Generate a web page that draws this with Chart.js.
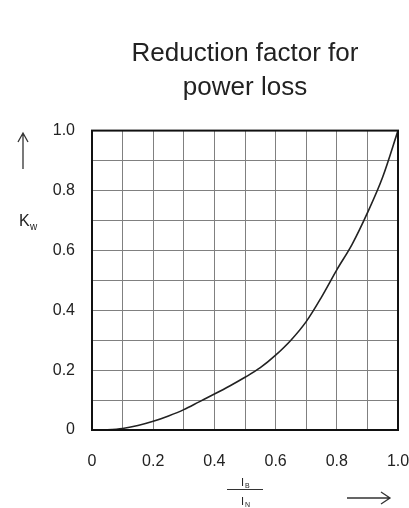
<!DOCTYPE html>
<html>
<head>
<meta charset="utf-8">
<script src="https://cdn.jsdelivr.net/npm/chart.js@4.4.0/dist/chart.umd.min.js"></script>
<style>
  html, body { margin: 0; padding: 0; background: #fff; }
  #wrap { width: 409px; height: 508px; }
</style>
</head>
<body>
<div id="wrap"><canvas id="kwChart" width="409" height="508"></canvas></div>
<script>
// curve: current ratio IB/IN -> Kw
const ratio = [0, 0.05, 0.1, 0.15, 0.2, 0.25, 0.3, 0.35, 0.4, 0.45, 0.5, 0.55, 0.6, 0.65, 0.7, 0.75, 0.8, 0.85, 0.9, 0.95, 1.0];
const kw = [0, 0.001, 0.005, 0.015, 0.029, 0.047, 0.068, 0.094, 0.12, 0.147, 0.176, 0.208, 0.25, 0.3, 0.362, 0.444, 0.535, 0.62, 0.725, 0.845, 1.0];
const tickLabels = ['0', '0.2', '0.4', '0.6', '0.8', '1.0'];
const titleLines = ['Reduction factor for', 'power loss'];

const textColor = '#222';
const font = 'Liberation Sans, Arial, sans-serif';

function labelFor(value) {
    const i = Math.round(value * 10);
    return i % 2 === 0 ? tickLabels[i / 2] : '';
}

// frame, axis arrows, Kw and IB/IN labels
const extras = {
    id: 'extras',
    afterDraw(chart) {
        const { ctx, chartArea: a } = chart;
        ctx.save();
        ctx.strokeStyle = '#111';
        ctx.lineWidth = 2;
        ctx.strokeRect(a.left, a.top, a.right - a.left, a.bottom - a.top);

        ctx.fillStyle = textColor;
        ctx.strokeStyle = '#333';
        ctx.lineWidth = 1.3;

        // up arrow
        ctx.beginPath();
        ctx.moveTo(23, 169); ctx.lineTo(23, 133);
        ctx.moveTo(18, 142); ctx.lineTo(23, 133); ctx.lineTo(28, 142);
        ctx.stroke();

        // Kw
        ctx.textBaseline = 'alphabetic';
        ctx.textAlign = 'left';
        ctx.font = '16px ' + font;
        ctx.fillText('K', 19, 226);
        ctx.font = '10px ' + font;
        ctx.fillText('w', 30, 230);

        // IB / IN fraction
        ctx.font = '11px ' + font;
        ctx.fillText('I', 241, 486);
        ctx.fillText('I', 241, 505);
        ctx.font = '7px ' + font;
        ctx.fillText('B', 245, 488);
        ctx.fillText('N', 245, 507);
        ctx.beginPath();
        ctx.lineWidth = 1;
        ctx.moveTo(227, 489.5); ctx.lineTo(263, 489.5);
        ctx.stroke();

        // right arrow
        ctx.lineWidth = 1.3;
        ctx.beginPath();
        ctx.moveTo(347, 498); ctx.lineTo(390, 498);
        ctx.moveTo(381, 492); ctx.lineTo(390, 498); ctx.lineTo(381, 504);
        ctx.stroke();
        ctx.restore();
    }
};

new Chart(document.getElementById('kwChart'), {
    type: 'line',
    data: {
        labels: ratio,
        datasets: [{
            data: ratio.map((x, i) => ({ x: x, y: kw[i] })),
            borderColor: '#222',
            borderWidth: 1.6,
            pointRadius: 0,
            fill: false,
            cubicInterpolationMode: 'monotone'
        }]
    },
    options: {
        responsive: false,
        animation: false,
        layout: { padding: { left: 0, right: 11, top: 0, bottom: 0 } },
        plugins: {
            legend: { display: false },
            tooltip: { enabled: false },
            title: {
                display: true,
                fullSize: false,
                text: titleLines,
                color: textColor,
                font: { family: font, size: 26, weight: 'normal', lineHeight: 1.3 },
                padding: { top: 37, bottom: 26 }
            }
        },
        scales: {
            x: {
                type: 'linear',
                min: 0,
                max: 1,
                afterFit(scale) {
                    scale.height = 78;
                    scale.paddingLeft = 0;
                    scale.paddingRight = 0;
                },
                ticks: {
                    stepSize: 0.1,
                    autoSkip: false,
                    maxRotation: 0,
                    padding: 22,
                    color: textColor,
                    font: { family: font, size: 16 },
                    callback: labelFor
                },
                grid: { color: '#808080', lineWidth: 1, drawTicks: false },
                border: { display: false }
            },
            y: {
                min: 0,
                max: 1,
                afterFit(scale) { scale.width = 92; },
                ticks: {
                    stepSize: 0.1,
                    autoSkip: false,
                    padding: 17,
                    color: textColor,
                    font: { family: font, size: 16 },
                    callback: labelFor
                },
                grid: { color: '#808080', lineWidth: 1, drawTicks: false },
                border: { display: false }
            }
        }
    },
    plugins: [extras]
});
</script>
</body>
</html>
